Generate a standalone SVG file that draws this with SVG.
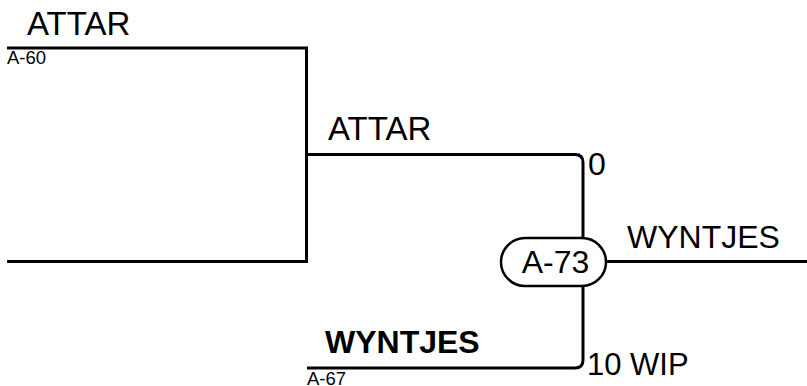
<svg xmlns="http://www.w3.org/2000/svg" width="807" height="386" viewBox="0 0 807 386">
<style>
.ln{fill:none;stroke:#000;stroke-width:3;stroke-linejoin:miter}
.t{font-family:"Liberation Sans",Arial,sans-serif;font-size:32px;fill:#000}
.a{font-size:33px}
.w{font-size:31px}
.s{font-family:"Liberation Sans",Arial,sans-serif;font-size:18.5px;fill:#000}
.b{font-weight:bold}
.node{fill:#fff;stroke:#000;stroke-width:2.5}
</style>
<rect width="807" height="386" fill="#fff"/>
<g id="connectors">
<path class="ln" d="M7,48 H306.5 V261.5 H7"/>
<path class="ln" d="M306.5,154.5 H575 Q583,154.5 583,162.5 V238"/>
<path class="ln" d="M307,368 H575 Q583,368 583,360 V286"/>
<path class="ln" d="M606,261.5 H807"/>
</g>
<g id="label-attar-top">
<text class="t a" x="27" y="35">ATTAR</text>
<text class="s" x="7" y="64">A-60</text>
</g>
<g id="label-attar-mid">
<text class="t a" x="328" y="140">ATTAR</text>
</g>
<g id="label-wyntjes-in">
<text class="t b" x="325" y="353">WYNTJES</text>
<text class="s" x="307" y="385">A-67</text>
</g>
<g id="node-a73">
<rect class="node" x="501" y="238" width="105" height="48" rx="24" ry="24"/>
<text class="t" x="555.5" y="273" text-anchor="middle">A-73</text>
</g>
<g id="port-labels">
<text class="t" x="588" y="175">0</text>
<text class="t w" x="587" y="375">10 WIP</text>
</g>
<g id="label-wyntjes-out">
<text class="t" x="627" y="247.5">WYNTJES</text>
</g>
</svg>
